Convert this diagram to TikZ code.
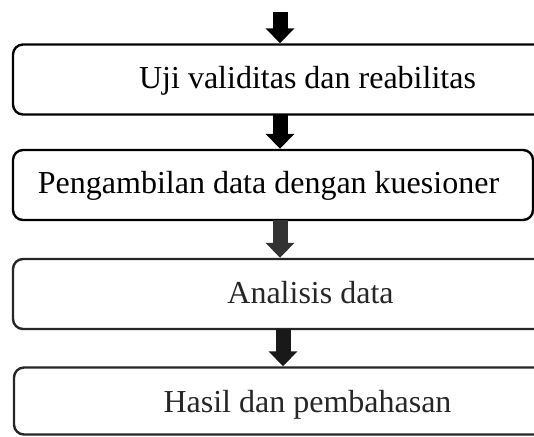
\documentclass[tikz,border=0pt]{standalone}
\usepackage{fontspec}
\setmainfont{Liberation Serif}
\usepackage{tikz}
\usetikzlibrary{arrows.meta, positioning}

\tikzset{
  box/.style={draw, line width=2.4pt, rounded corners=10pt, minimum height=70pt},
  txt/.style={anchor=base, inner sep=0pt, font=\fontsize{32}{38}\selectfont},
  bigarrow/.style={line width=15pt, -{Triangle[width=28pt,length=15pt]}, shorten <=-1pt}
}

\begin{document}
\begin{tikzpicture}
\begin{scope}[x=1pt,y=-1pt]
  \useasboundingbox (0,0) rectangle (534,436);
  \node[box, minimum width=534pt] (b1) at (280,79.5) {};
  \node[box, minimum width=520pt] (b2) at (273,185) {};
  \node[box, minimum width=534pt, draw=black!85] (b3) at (280,294) {};
  \node[box, minimum width=534pt, minimum height=67pt, draw=black!85] (b4) at (281,401) {};
  \node[txt] (t1) at (307.5,88) {Uji validitas dan reabilitas};
  \node[txt] (t2) at (268.5,193) {Pengambilan data dengan kuesioner};
  \node[txt, text=black!85] (t3) at (310.5,303) {Analisis data};
  \node[txt, text=black!85] (t4) at (307.5,412) {Hasil dan pembahasan};
  \coordinate (start) at (280,13);
  \draw[bigarrow] (start) -- (b1.north -| start);
  \draw[bigarrow] (b1.south -| start) -- (b2.north -| start);
  \draw[bigarrow, black!80] (b2.south -| start) -- (b3.north -| start);
  \draw[bigarrow, black!90] ([xshift=3pt]b3.south -| start) -- ([xshift=3pt]b4.north -| start);
\end{scope}
\end{tikzpicture}
\end{document}
